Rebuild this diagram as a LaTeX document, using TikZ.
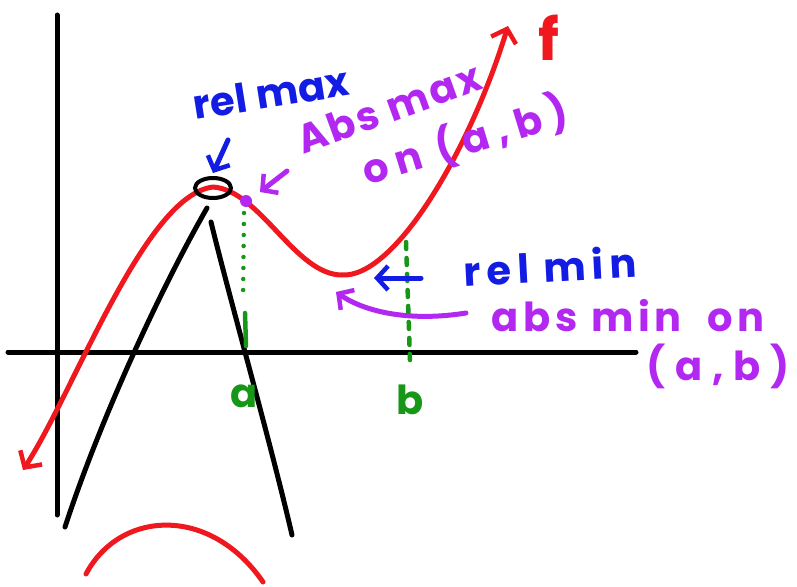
\documentclass[tikz,border=0pt]{standalone}
\usepackage{fontspec}
\newfontfamily\handfont{Poppins}
\usetikzlibrary{arrows.meta,positioning,calc}
\definecolor{penred}{RGB}{238,24,30}
\definecolor{penblue}{RGB}{18,28,226}
\definecolor{penpurple}{RGB}{178,40,240}
\definecolor{pengreen}{RGB}{24,150,24}
\tikzset{
  pen/.style={
    line width=5pt,
    line cap=round,
    line join=round
  },
  barb/.style={pen, -{Straight Barb[length=11pt,width=24pt,line width=4.5pt]}},
  scribble/.style={
    font=\handfont\bfseries\addfontfeature{LetterSpace=#1}\fontsize{40}{44}\selectfont,
    inner sep=0pt
  },
  scribble/.default=6,
  dotline/.style={pen, pengreen, line width=4.5pt, dash pattern=on 0pt off 11pt},
  dashline/.style={pen, pengreen, line width=4.5pt, dash pattern=on 7pt off 9pt}
}

\begin{document}
\begin{tikzpicture}[x=1pt, y=-1pt]
        \useasboundingbox (0,0) rectangle (797,586);
        % axes
        \draw[pen] (57,15) -- (57,515);
        \draw[pen] (8,352) -- (636,352);
        % graph of f
        \draw[pen, penred, {Straight Barb[length=12pt,width=26pt,line width=4.5pt]}-{Straight Barb[length=12pt,width=26pt,line width=4.5pt]}]
          (23,470) .. controls (75,390) and (145,195) .. (213,187)
          .. controls (260,190) and (295,275) .. (342,275)
          .. controls (395,278) and (470,150) .. (508,26);
        \node[scribble, text=penred, font=\handfont\bfseries\fontsize{58}{60}\selectfont] (lf) at (549,38) {f};
        % tangent lines at the peak
        \draw[pen] (207,208) .. controls (160,290) and (100,420) .. (65,527);
        \draw[pen] (211,222) .. controls (230,300) and (270,440) .. (292,535);
        \draw[pen, penred] (86,574) .. controls (120,510) and (210,505) .. (263,582);
        % points
        \coordinate (peak) at (213,188);
        \coordinate (ptA) at (246,201);
        \draw[pen, line width=4pt] (peak) ellipse [x radius=18, y radius=10];
        \fill[penpurple] (ptA) circle [radius=6];
        % a and b
        \node[scribble, text=pengreen] (la) at (244,396) {a};
        \node[scribble, text=pengreen] (lb) at (410,400) {b};
        \draw[dotline] (ptA) ++(-2,12) -- (243,300);
        \draw[pen, pengreen, line width=4.5pt] (245,313) -- (246,346);
        \draw[dashline] (406,242) -- (410,360);
        % labels
        \node[scribble=1, text=penblue, rotate=9] (relmax) at (271,93) {rel max};
        \node[scribble=6, text=penpurple, rotate=20] (absmax) at (389,108) {Abs max};
        \node[scribble=20, text=penpurple, rotate=17] (absmaxon) at (465,141) {on (a,b)};
        \node[scribble=15, text=penblue, rotate=3] (relmin) at (550,266) {rel min};
        \node[scribble=12, text=penpurple] (absmin) at (628,316) {abs min \hspace{12pt}on};
        \node[scribble=24, text=penpurple] (absminab) at (718,366) {(a,b)};
        % arrows
        \coordinate (rmaxtail) at (228,140);
        \coordinate (amaxtail) at (287,171);
        \coordinate (rmintail) at (421,278);
        \coordinate (rmintip) at (374,278);
        \coordinate (amintail) at (466,313);
        \coordinate (amintip) at (336,292);
        \draw[barb, penblue] (rmaxtail) -- ($(peak)+(0,-15)$);
        \draw[barb, penpurple] (amaxtail) -- ($(ptA)+(14,-9)$);
        \draw[barb, penblue] (rmintail) -- (rmintip);
        \draw[barb, penpurple] (amintail) .. controls (410,322) and (365,312) .. (amintip);
      \end{tikzpicture}
\end{document}
